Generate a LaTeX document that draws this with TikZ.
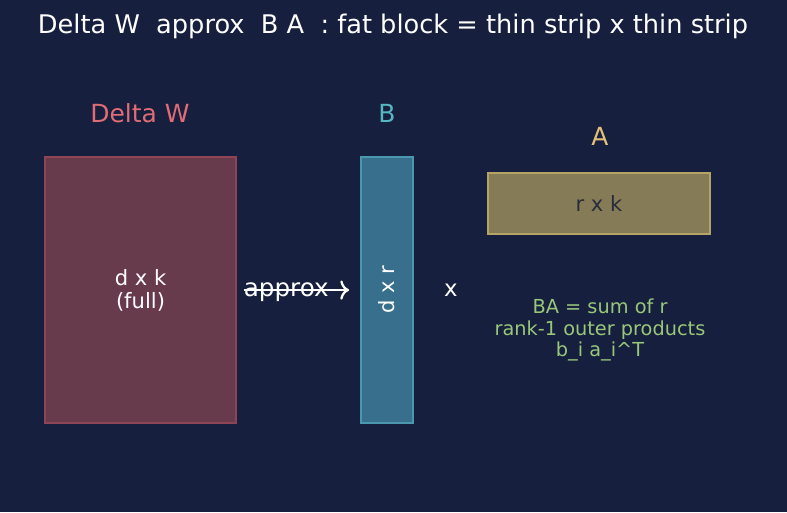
\documentclass[tikz,border=0pt]{standalone}
\usepackage{fontspec}
\setmainfont{DejaVu Sans}
\usetikzlibrary{positioning,arrows,arrows.meta,calc}

\definecolor{bgnavy}{HTML}{161F3D}
\definecolor{dwfill}{HTML}{673B4C}
\definecolor{dwline}{HTML}{8E4455}
\definecolor{dwtext}{HTML}{E06C75}
\definecolor{bfill}{HTML}{376F8C}
\definecolor{bline}{HTML}{4B97AE}
\definecolor{btext}{HTML}{56B6C2}
\definecolor{afill}{HTML}{857C57}
\definecolor{aline}{HTML}{B4A566}
\definecolor{atext}{HTML}{E5C07B}
\definecolor{notegreen}{HTML}{98C77A}
\definecolor{darkink}{HTML}{282C3A}

\begin{document}
\begin{tikzpicture}[
      x=0.02cm, y=-0.02cm,
      >=to
    ]

    \tikzstyle{mat} = [rectangle, line width=1.6pt, inner sep=0pt, text centered, font=\fontsize{12}{13}\selectfont]
    \tikzstyle{matlabel} = [font=\fontsize{14.2}{16}\selectfont]

    % background
    \fill [bgnavy] (0,0) rectangle (787,512);

    \node [text=white, font=\fontsize{14.6}{17}\selectfont] (title) at (393,26) {Delta W\ \ approx\ \ B A\ \ : fat block = thin strip x thin strip};

    \node [mat, fill=dwfill, draw=dwline, text=white, minimum width=3.82cm, minimum height=5.32cm, align=center] (dw) at (140.5,290) {d x k\\(full)};
    \node [mat, fill=bfill, draw=bline, text=white, minimum width=1.04cm, minimum height=5.32cm] (bmat) at (387,290) {\rotatebox{90}{d x r}};
    \node [mat, fill=afill, draw=aline, text=darkink, minimum width=4.44cm, minimum height=1.22cm] (amat) at (599,203.5) {r x k};

    \node [matlabel, text=dwtext] (dwlabel) at (140,113) {Delta W};
    \node [matlabel, text=btext] (blabel) at (387,113) {B};
    \node [matlabel, text=atext] (alabel) at (600,136) {A};

    \node [text=white, font=\fontsize{13}{15}\selectfont] (times) at (451,290) {x};

    \node [text=notegreen, align=center, font=\fontsize{11}{12.2}\selectfont] (note) at (600,330) {BA = sum of r\\rank-1 outer products\\b\_i a\_i\^{}T};

    \draw [-{To[length=5pt,width=11pt]}, white, line width=1.3pt, shorten <=4pt, shorten >=6pt] (dw.east) -- (bmat.west) node[pos=0.4, yshift=-1.5pt, text=white, font=\fontsize{14}{16}\selectfont] {approx};

\end{tikzpicture}
\end{document}
